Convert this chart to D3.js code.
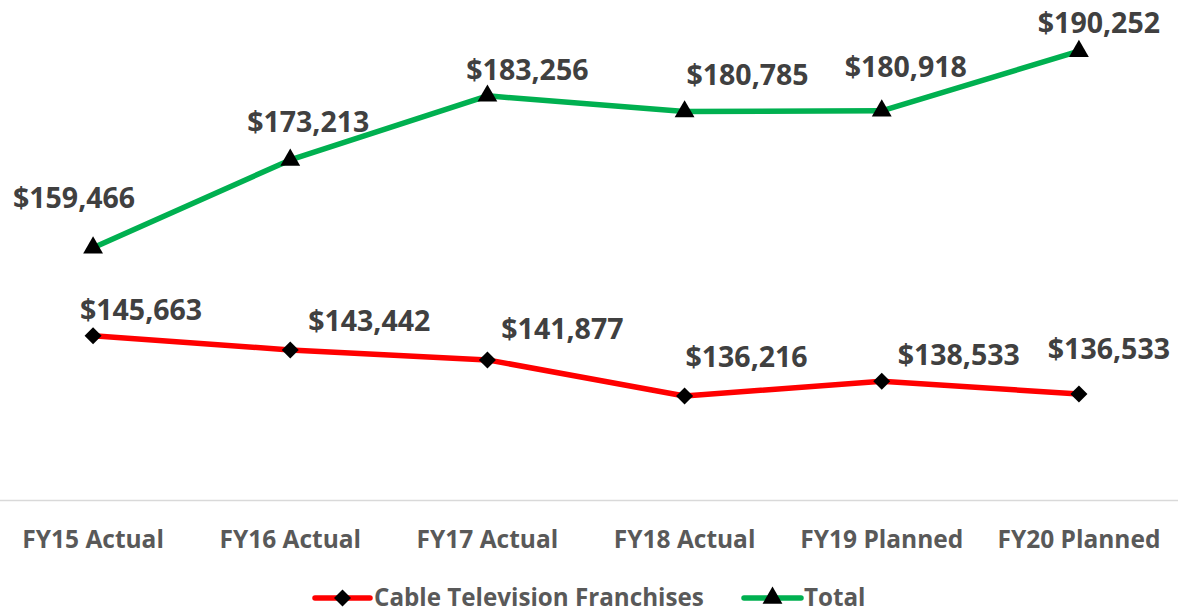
<!DOCTYPE html>
<html>
<head>
<meta charset="utf-8">
<script src="https://cdn.jsdelivr.net/npm/d3@7/dist/d3.min.js"></script>
<style>
  html, body { margin: 0; padding: 0; background: #ffffff; }
  svg { display: block; font-family: "Open Sans", "DejaVu Sans", sans-serif; }
</style>
</head>
<body>
<svg id="chart" width="1188" height="612"></svg>
<script>
// ---- data ----
const categories = ["FY15 Actual", "FY16 Actual", "FY17 Actual", "FY18 Actual", "FY19 Planned", "FY20 Planned"];
const cableValues = [145663, 143442, 141877, 136216, 138533, 136533];
const totalValues = [159466, 173213, 183256, 180785, 180918, 190252];
const seriesNames = ["Cable Television Franchises", "Total"];
const yDomain = [120000, 200000];

// ---- layout (label nudges, in px, relative to each point) ----
const cableLabelOffsets = [[48, -16], [79, -19], [75, -21], [62, -29], [77, -16], [30, -35]];
const totalLabelOffsets = [[-19, -40], [18, -28], [40, -16], [63, -27], [24, -34], [20, -18]];

const svg = d3.select("#chart");

const x = d3.scaleBand().domain(categories).range([-5.5, 1177.5]).padding(0);
const y = d3.scaleLinear().domain(yDomain).range([499.5, -11]);
const cx = d => x(d) + x.bandwidth() / 2;

// axis
const axis = d3.axisBottom(x).tickSize(0).tickSizeOuter(0);
const gAxis = svg.append("g").attr("transform", `translate(0,${y(yDomain[0]) + 1})`).call(axis);
gAxis.select(".domain").attr("stroke", "#d9d9d9").attr("stroke-width", 1.5).attr("d", "M0,0H1178");
gAxis.selectAll(".tick text")
  .attr("y", 47.5).attr("dy", 0)
  .attr("fill", "#595959")
  .attr("font-size", 24.5)
  .attr("font-weight", 700)
  .attr("font-family", "'Open Sans', sans-serif");

const series = [
  { name: seriesNames[0], values: cableValues, color: "#ff0000", symbol: "diamond", offsets: cableLabelOffsets },
  { name: seriesNames[1], values: totalValues, color: "#00b050", symbol: "triangle", offsets: totalLabelOffsets }
];

const line = d3.line().x((d, i) => cx(categories[i])).y(d => y(d));

function marker(g, type) {
  if (type === "diamond") {
    g.append("path").attr("d", d3.symbol(d3.symbolSquare, 145)()).attr("transform", "rotate(45)").attr("fill", "#000");
  } else {
    g.append("path").attr("d", d3.symbol(d3.symbolTriangle, 170)()).attr("fill", "#000");
  }
}

const fmt = v => "$" + d3.format(",")(v);

series.forEach(s => {
  svg.append("path")
    .datum(s.values)
    .attr("d", line)
    .attr("fill", "none")
    .attr("stroke", s.color)
    .attr("stroke-width", 5.5)
    .attr("stroke-linejoin", "round")
    .attr("stroke-linecap", "round");

  s.values.forEach((v, i) => {
    const g = svg.append("g").attr("transform", `translate(${cx(categories[i])},${y(v)})`);
    marker(g, s.symbol);
  });

  svg.append("g").selectAll("text")
    .data(s.values)
    .join("text")
    .attr("x", (v, i) => cx(categories[i]) + s.offsets[i][0])
    .attr("y", (v, i) => y(v) + s.offsets[i][1])
    .attr("text-anchor", "middle")
    .attr("fill", "#404040")
    .attr("font-size", 28.5)
    .attr("font-weight", 700)
    .text(fmt);
});

// legend
const legendY = 598;
const legendItems = [
  { s: series[0], x0: 315, x1: 370, tx: 374 },
  { s: series[1], x0: 744, x1: 801, tx: 804 }
];
legendItems.forEach(it => {
  const g = svg.append("g");
  g.append("line")
    .attr("x1", it.x0).attr("x2", it.x1).attr("y1", legendY).attr("y2", legendY)
    .attr("stroke", it.s.color).attr("stroke-width", 5.5).attr("stroke-linecap", "round");
  const m = g.append("g").attr("transform", `translate(${(it.x0 + it.x1) / 2},${legendY})`);
  marker(m, it.s.symbol);
  g.append("text")
    .attr("x", it.tx).attr("y", legendY + 8)
    .attr("fill", "#595959")
    .attr("font-size", 24.2)
    .attr("font-weight", 700)
    .text(it.s.name);
});
</script>
</body>
</html>
